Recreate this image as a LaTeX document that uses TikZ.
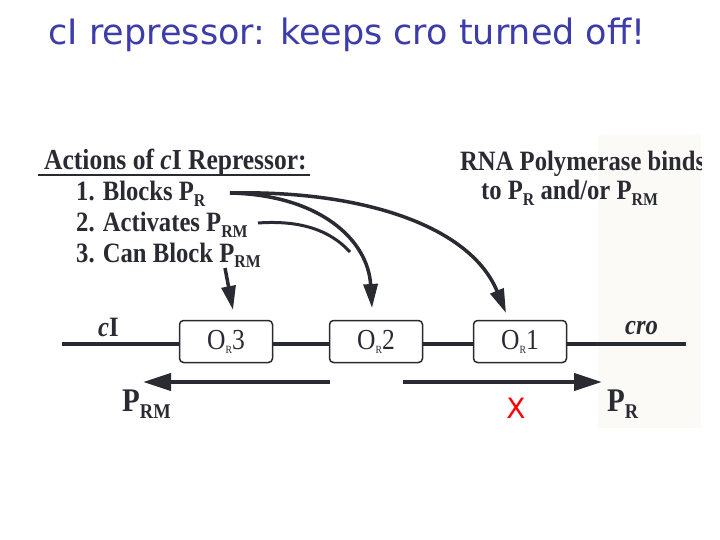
\documentclass[tikz,border=0pt]{standalone}
\usepackage{fontspec}
\setmainfont{Liberation Serif}
\newfontfamily\scanfont[FakeStretch=0.88]{Liberation Serif}
\newfontfamily\titlefont{DejaVu Sans}
\usetikzlibrary{arrows.meta}
\definecolor{ink}{HTML}{2A2A32}
\definecolor{titleblue}{HTML}{3C3CAA}
\newcommand\sbs[1]{\raisebox{-0.4ex}{\fontsize{18}{18}\selectfont #1}}
\newcommand\bsb[1]{\raisebox{-0.5ex}{\fontsize{21}{21}\selectfont #1}}
\newcommand\tsb[1]{\raisebox{-0.3ex}{\fontsize{11}{11}\selectfont #1}}
\tikzset{
  titletext/.style={font=\titlefont\fontsize{35}{35}\selectfont, text=titleblue, inner sep=0pt},
  scantext/.style={font=\scanfont\fontsize{28}{28}\selectfont\bfseries, text=ink, inner sep=0pt},
  headtext/.style={font=\scanfont\fontsize{29}{29}\selectfont\bfseries, text=ink, inner sep=0pt},
  promtext/.style={font=\scanfont\fontsize{33}{33}\selectfont\bfseries, text=ink, inner sep=0pt},
  opbox/.style={draw=ink, line width=1.5pt, rounded corners=4pt, fill=white,
     minimum width=93pt, minimum height=42pt, inner sep=0pt,
     font=\scanfont\fontsize{29}{29}\selectfont, text=ink},
  dna/.style={draw=ink, line width=4pt},
  bigarrow/.style={draw=ink, line width=4pt, -{Triangle[length=28pt,width=17pt]}},
  curvearrow/.style={draw=ink, line width=3.5pt, -{Triangle[length=24pt,width=14pt]}},
}
\begin{document}
\begin{tikzpicture}[x=1pt,y=-1pt]
\useasboundingbox (0,0) rectangle (720,540);
\fill[white] (0,0) rectangle (720,540);
\fill[color={rgb,255:red,252;green,250;blue,247}] (598,135) rectangle (701,428);

% title
\node[titletext, anchor=base] (title) at (347,45) {cI repressor: keeps cro turned off!};

% heading and list
\node[headtext, anchor=base west] (head) at (44,170) {Actions of \textit{c}I Repressor:};
\draw[ink, line width=1.8pt] (38,175) -- (310,175);
\node[scantext, anchor=base west] (i1) at (76,201) {1. Blocks P\sbs{R}};
\node[scantext, anchor=base west] (i2) at (76,232) {2. Activates P\sbs{RM}};
\node[scantext, anchor=base west] (i3) at (76,262) {3. Can Block P\sbs{RM}};

\begin{scope}
\clip (0,135) rectangle (701,430);
\node[scantext, anchor=base west] (rna1) at (460,171) {RNA Polymerase binds};
\end{scope}
\node[scantext, anchor=base west] (rna2) at (481,200) {to P\sbs{R} and/or P\sbs{RM}};

% operator boxes
\coordinate (dl) at (62,344);
\coordinate (dr) at (686,344);
\draw[dna] (dl) -- (dr);
\node[opbox] (or3) at (226,341.5) {O\tsb{R}3};
\node[opbox] (or2) at (376,341.5) {O\tsb{R}2};
\node[opbox] (or1) at (520,341.5) {O\tsb{R}1};

\node[scantext, anchor=base west] (cI) at (98,336) {\textit{c}I};
\node[scantext, anchor=base west] (cro) at (625,334) {\textit{cro}};

% promoter arrows
\coordinate (la) at (330,382);
\coordinate (lt) at (143,382);
\coordinate (ra) at (403,382);
\coordinate (rt) at (602,382);
\draw[bigarrow] (la) -- (lt);
\draw[bigarrow] (ra) -- (rt);
\node[promtext, anchor=base west] (prm) at (122,411) {P\bsb{RM}};
\node[promtext, anchor=base west] (pr) at (607,411) {P\bsb{R}};

% X mark
\fill[white] (498,384) rectangle (533,428);
\node[font=\titlefont\fontsize{28}{28}\selectfont, text=red, inner sep=0pt] (xmark) at (516,408) {X};

% curved arrows
\coordinate (s1) at (230,193);
\coordinate (s2) at (258,223);
\coordinate (s3) at (225,268);
\coordinate (t1) at (506,313);
\coordinate (t2) at (372,308);
\coordinate (t3) at (233,310);
\draw[curvearrow] (s1) .. controls (360,190) and (470,225) .. (t1);
\draw[curvearrow] (s1) .. controls (320,195) and (368,240) .. (t2);
\draw[draw=ink, line width=3pt] (s2) .. controls (300,220) and (330,230) .. (350,252);
\draw[curvearrow] (s3) -- (t3);
\end{tikzpicture}
\end{document}
